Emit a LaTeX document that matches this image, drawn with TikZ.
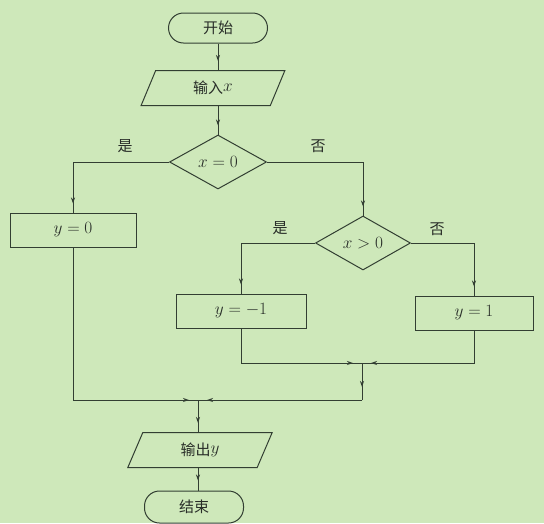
\documentclass[tikz,border=0pt]{standalone}
\usepackage{fontspec}
\newfontfamily\cjk{Noto Sans CJK SC}
\usetikzlibrary{shapes.geometric,arrows.meta,decorations.markings}
\definecolor{bg}{RGB}{206,232,186}
\definecolor{linec}{RGB}{50,62,50}
\definecolor{txt}{RGB}{40,45,40}
\newcommand{\mth}[1]{{\fontsize{18}{20}\selectfont$#1$}}
\tikzset{
  base/.style={draw=linec, line width=1pt, text=txt, font=\cjk\fontsize{15}{17}\selectfont, inner sep=0pt},
  term/.style={base, rectangle, rounded corners=15pt, minimum width=99pt, minimum height=30pt},
  io/.style={base, trapezium, trapezium left angle=70, trapezium right angle=110, trapezium stretches=true, minimum height=35pt},
  dec/.style={base, diamond, minimum height=54pt},
  proc/.style={base, rectangle, minimum height=34pt},
  lab/.style={text=txt, font=\cjk\fontsize{15}{17}\selectfont, inner sep=0pt},
  line/.style={draw=linec, line width=1pt},
  arr/.style={line, postaction={decorate}, decoration={markings, mark=at position #1 with {\arrow{Stealth[length=6pt,width=4pt]}}}},
  arr/.default=-9pt
}
\begin{document}
\begin{tikzpicture}[x=1pt,y=-1pt]
\fill[bg] (0,0) rectangle (544,523);
\useasboundingbox (0,0) rectangle (544,523);
\node[term] (start) at (218,28) {开始};
\node[io, minimum width=144pt] (in) at (213,88) {输入\raisebox{2pt}{\mth{x}}};
\node[dec, minimum width=97pt] (d1) at (218,162) {\mth{x=0}};
\node[proc, minimum width=126pt] (y0) at (73,230) {\mth{y=0}};
\node[dec, minimum width=95pt] (d2) at (363,243) {\mth{x>0}};
\node[proc, minimum width=130pt] (yn) at (241,311) {\mth{y=-1}};
\node[proc, minimum width=118pt] (yp) at (474,313) {\mth{y=1}};
\coordinate (m1) at (362,363);
\coordinate (m2) at (198,400);
\coordinate (m1b) at (362,400);
\node[io, minimum width=145pt] (out) at (200,450) {输出\raisebox{2pt}{\mth{y}}};
\node[term, minimum height=32pt] (end) at (194,507) {结束};
\node[lab] (l1) at (125,146) {是};
\node[lab] (l2) at (318,146) {否};
\node[lab] (l3) at (280,228) {是};
\node[lab] (l4) at (437,229) {否};
\draw[arr] (start.south) -- (start.south |- in.north);
\draw[arr] (d1.north |- in.south) -- (d1.north);
\draw[arr] (d1.west) -| (y0.north);
\draw[arr] (d1.east) -| (d2.north);
\draw[arr] (d2.west) -| (yn.north);
\draw[arr] (d2.east) -| (yp.north);
\draw[arr] (yn.south) |- (m1);
\draw[arr] (yp.south) |- (m1);
\draw[arr=-13pt] (m1) -- (m1b);
\draw[arr] (m1b) -- (m2);
\draw[arr] (y0.south) |- (m2);
\draw[arr] (m2) -- (m2 |- out.north);
\draw[arr=-10pt] (m2 |- out.south) -- (m2 |- end.north);
\end{tikzpicture}
\end{document}
